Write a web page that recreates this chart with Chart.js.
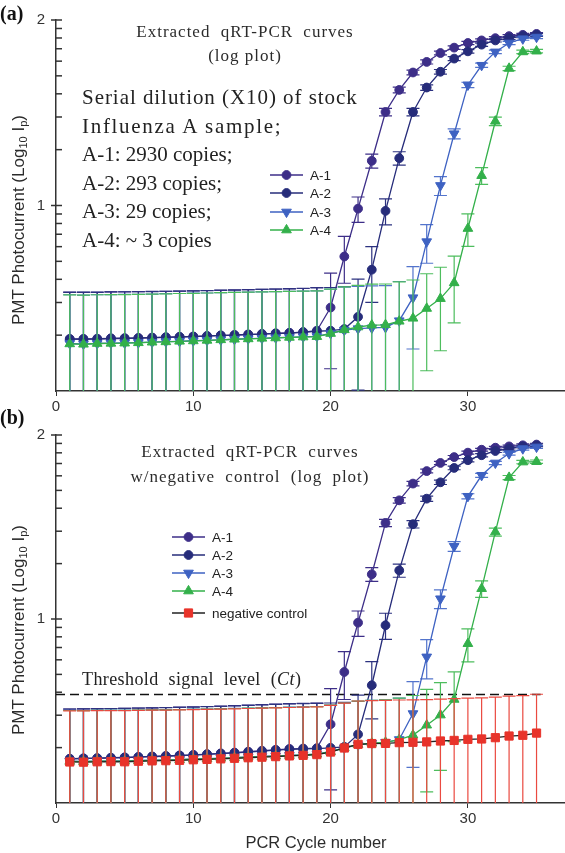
<!DOCTYPE html>
<html>
<head>
<meta charset="utf-8">
<script src="https://cdn.jsdelivr.net/npm/chart.js"></script>
<style>
  body { margin: 0; background: #fff; }
  #wrap { position: relative; width: 565px; height: 853px; overflow: hidden; }
  canvas { position: absolute; left: 0; }
  .t { position: absolute; white-space: nowrap; color: #2b2b2b; }
  .c { transform: translate(-50%, -50%); }
  .serif { font-family: "Liberation Serif", "Times New Roman", serif; }
  .sans { font-family: "Liberation Sans", Arial, sans-serif; }
  .ytitle { transform: translate(-50%, -50%) rotate(-90deg); font-size: 17px; }
  sub { font-size: 65%; line-height: 0; vertical-align: -0.25em; }
</style>
</head>
<body>
<div id="wrap">
  <canvas id="chartA" width="565" height="415" style="top:0"></canvas>
  <canvas id="chartB" width="565" height="438" style="top:415px"></canvas>

  <div class="t serif" style="left:0;top:2px;font-size:20px;font-weight:bold;color:#111">(a)</div>
  <div class="t serif" style="left:0;top:406px;font-size:20px;font-weight:bold;color:#111">(b)</div>

  <div class="t serif c" style="left:245px;top:32px;font-size:17px;letter-spacing:1px;word-spacing:5px">Extracted qRT-PCR curves</div>
  <div class="t serif c" style="left:245px;top:56px;font-size:17px;letter-spacing:1px">(log plot)</div>
  <div class="t serif" style="left:82px;top:83px;font-size:21px;line-height:28.5px;color:#222">
    <span style="letter-spacing:0.95px">Serial dilution (X10) of stock</span><br><span style="letter-spacing:1.7px">Influenza A sample;</span><br>A-1: 2930 copies;<br>A-2: 293 copies;<br>A-3: 29 copies;<br>A-4: ~ 3 copies
  </div>

  <div class="t serif c" style="left:250px;top:452px;font-size:17px;letter-spacing:1px;word-spacing:5px">Extracted qRT-PCR curves</div>
  <div class="t serif c" style="left:250px;top:477px;font-size:17px;letter-spacing:1px;word-spacing:5px">w/negative control (log plot)</div>
  <div class="t serif" style="left:82px;top:669px;font-size:18px;letter-spacing:0.4px;word-spacing:5px;color:#222">Threshold signal level (<i>Ct</i>)</div>

  <div class="t sans ytitle" style="left:19px;top:220px">PMT Photocurrent (Log<sub>10</sub> I<sub>p</sub>)</div>
  <div class="t sans ytitle" style="left:19px;top:630px">PMT Photocurrent (Log<sub>10</sub> I<sub>p</sub>)</div>
  <div class="t sans c" style="left:316px;top:842px;font-size:16.5px">PCR Cycle number</div>
</div>

<script>
// cycles (x axis)
const cycles = [1, 2, 3, 4, 5, 6, 7, 8, 9, 10, 11, 12, 13, 14, 15, 16, 17, 18, 19, 20,
  21, 22, 23, 24, 25, 26, 27, 28, 29, 30, 31, 32, 33, 34, 35]

const seriesNames = ["A-1", "A-2", "A-3", "A-4", "negative control"]

// panel (a) - Log10 Ip
const a1A = [0.281, 0.279, 0.282, 0.284, 0.283, 0.286, 0.288, 0.289, 0.291, 0.294, 0.297, 0.299, 0.302, 0.305, 0.307, 0.311, 0.314, 0.316, 0.325,
  0.450, 0.725, 0.983, 1.241, 1.504, 1.623, 1.717, 1.774, 1.822, 1.851, 1.876, 1.890, 1.902, 1.913, 1.920, 1.925]
const a2A = [0.279, 0.281, 0.280, 0.283, 0.285, 0.285, 0.287, 0.290, 0.292, 0.293, 0.296, 0.300, 0.301, 0.304, 0.308, 0.310, 0.312, 0.318, 0.322,
  0.325, 0.334, 0.400, 0.654, 0.971, 1.255, 1.504, 1.636, 1.721, 1.792, 1.831, 1.867, 1.890, 1.902, 1.913, 1.920]
const a3A = [0.256, 0.253, 0.256, 0.258, 0.259, 0.261, 0.263, 0.266, 0.268, 0.271, 0.273, 0.276, 0.279, 0.282, 0.284, 0.287, 0.289, 0.292, 0.294,
  0.310, 0.328, 0.336, 0.340, 0.343, 0.379, 0.503, 0.805, 1.108, 1.387, 1.650, 1.756, 1.828, 1.876, 1.899, 1.908]
const a4A = [0.254, 0.252, 0.256, 0.257, 0.258, 0.260, 0.263, 0.265, 0.268, 0.270, 0.273, 0.276, 0.279, 0.281, 0.284, 0.286, 0.289, 0.291, 0.293,
  0.310, 0.330, 0.345, 0.355, 0.357, 0.376, 0.392, 0.445, 0.498, 0.583, 0.876, 1.161, 1.454, 1.739, 1.828, 1.832]

// panel (b)
const a1B = [0.241, 0.243, 0.244, 0.246, 0.248, 0.251, 0.253, 0.256, 0.259, 0.262, 0.266, 0.270, 0.274, 0.279, 0.284, 0.289, 0.294, 0.296, 0.298,
  0.428, 0.712, 0.980, 1.243, 1.522, 1.645, 1.736, 1.804, 1.848, 1.880, 1.904, 1.920, 1.931, 1.938, 1.944, 1.948]
const a2B = [0.239, 0.242, 0.243, 0.245, 0.247, 0.249, 0.252, 0.254, 0.257, 0.260, 0.264, 0.268, 0.272, 0.277, 0.282, 0.287, 0.291, 0.294, 0.296,
  0.300, 0.305, 0.373, 0.640, 0.966, 1.264, 1.515, 1.654, 1.743, 1.821, 1.863, 1.890, 1.913, 1.926, 1.938, 1.944]
const a3B = [0.228, 0.226, 0.228, 0.229, 0.229, 0.231, 0.233, 0.234, 0.236, 0.239, 0.241, 0.244, 0.247, 0.250, 0.253, 0.256, 0.259, 0.262, 0.266,
  0.280, 0.300, 0.315, 0.325, 0.330, 0.345, 0.486, 0.794, 1.110, 1.395, 1.667, 1.781, 1.848, 1.899, 1.926, 1.935]
const a4B = [0.226, 0.225, 0.227, 0.228, 0.227, 0.230, 0.232, 0.233, 0.235, 0.238, 0.240, 0.243, 0.246, 0.249, 0.252, 0.255, 0.258, 0.261, 0.265,
  0.279, 0.300, 0.318, 0.325, 0.330, 0.345, 0.369, 0.423, 0.478, 0.563, 0.866, 1.165, 1.473, 1.769, 1.853, 1.855]
const negB = [0.223, 0.222, 0.224, 0.225, 0.224, 0.227, 0.229, 0.230, 0.232, 0.235, 0.237, 0.240, 0.243, 0.246, 0.249, 0.252, 0.256, 0.259, 0.263,
  0.277, 0.299, 0.319, 0.323, 0.324, 0.328, 0.330, 0.332, 0.337, 0.340, 0.346, 0.348, 0.355, 0.364, 0.368, 0.380]

// error bar size (in Ip units) for A-1..A-4, negative control
const sdSeries = [1.5, 1.5, 1.5, 1.5, 1.5]

// threshold (Log10 Ip) and its cycle range
const threshold = 0.59
const thresholdRange = [0, 35.3]

// y tick labels (Log10 of Ip) and the minor log ticks
const yTickValues = [10, 100]
const yTickText = ["1", "2"]
const yMinorTicks = [2, 3, 4, 5, 6, 7, 8, 9, 20, 30, 40, 50, 60, 70, 80, 90]

const colors = ["#3d2e88", "#262c7a", "#3e62c2", "#33b04a", "#e8332a"]
const errColors = ["#3d2e88", "#2c3280", "#5374cc", "#4dbd5d", "#ea4a40"]

function toPoints(vals) {
  return cycles.map((c, i) => ({ x: c, y: Math.pow(10, vals[i]) }))
}

function series(i, vals) {
  const styles = [
    { pointStyle: "circle", pointRadius: 4.4, rot: 0 },
    { pointStyle: "circle", pointRadius: 4.4, rot: 0 },
    { pointStyle: "triangle", pointRadius: 5.6, rot: 180 },
    { pointStyle: "triangle", pointRadius: 5.6, rot: 0 },
    { pointStyle: "rect", pointRadius: 5.8, rot: 0 },
  ]
  const s = styles[i]
  return {
    label: seriesNames[i],
    data: toPoints(vals),
    borderColor: i === 4 ? "#222" : colors[i],
    backgroundColor: colors[i],
    pointBackgroundColor: colors[i],
    pointBorderColor: colors[i],
    pointStyle: s.pointStyle,
    pointRadius: s.pointRadius,
    pointRotation: s.rot,
    pointBorderWidth: 1,
    borderWidth: 1.3,
    tension: 0,
    sd: sdSeries[i],
    errColor: errColors[i],
    order: 5 - i,
  }
}

// vertical error bars drawn just before each dataset
const errorBars = {
  id: "errorBars",
  beforeDatasetDraw(chart, args) {
    const ds = chart.data.datasets[args.index]
    if (!ds.sd) return
    const { ctx, chartArea } = chart
    const xs = chart.scales.x
    const ys = chart.scales.y
    ctx.save()
    ctx.beginPath()
    ctx.rect(chartArea.left, chartArea.top, chartArea.width, chartArea.height)
    ctx.clip()
    ctx.strokeStyle = ds.errColor
    ctx.lineWidth = 1.2
    ds.data.forEach((p) => {
      const px = xs.getPixelForValue(p.x)
      const hi = ys.getPixelForValue(p.y + ds.sd)
      const lowVal = p.y - ds.sd
      const lo = lowVal > ys.min ? ys.getPixelForValue(lowVal) : chartArea.bottom
      ctx.beginPath()
      ctx.moveTo(px, hi)
      ctx.lineTo(px, lo)
      ctx.moveTo(px - 6.5, hi)
      ctx.lineTo(px + 6.5, hi)
      if (lowVal > ys.min) {
        ctx.moveTo(px - 6.5, lo)
        ctx.lineTo(px + 6.5, lo)
      }
      ctx.stroke()
    })
    ctx.restore()
  },
}

// y tick marks pointing into the plot (major ones cross the axis)
const yTickMarks = {
  id: "yTickMarks",
  afterDraw(chart) {
    const ys = chart.scales.y
    const ctx = chart.ctx
    const left = chart.chartArea.left
    ctx.save()
    ctx.strokeStyle = "#333"
    ctx.lineWidth = 1.5
    yTickValues.concat(yMinorTicks).forEach((v) => {
      const py = ys.getPixelForValue(v)
      const major = yTickValues.indexOf(v) >= 0
      ctx.beginPath()
      ctx.moveTo(major ? left - 5 : left, py)
      ctx.lineTo(left + 6, py)
      ctx.stroke()
    })
    ctx.restore()
  },
}

// legend placed inside the plot
const insideLegend = {
  id: "insideLegend",
  afterDraw(chart, args, opts) {
    const ctx = chart.ctx
    ctx.save()
    opts.rows.forEach((row) => {
      const ds = chart.data.datasets[row.index]
      const x0 = opts.x
      const x1 = opts.x + opts.len
      ctx.strokeStyle = ds.borderColor
      ctx.lineWidth = 1.3
      ctx.beginPath()
      ctx.moveTo(x0, row.y)
      ctx.lineTo(x1, row.y)
      ctx.stroke()
      ctx.fillStyle = ds.pointBackgroundColor
      ctx.strokeStyle = ds.pointBorderColor
      ctx.lineWidth = 1
      Chart.helpers.drawPoint(ctx, {
        pointStyle: ds.pointStyle,
        radius: ds.pointRadius,
        rotation: ds.pointRotation,
        borderWidth: 1,
      }, (x0 + x1) / 2, row.y)
      ctx.fillStyle = "#222"
      ctx.font = '13.5px "Liberation Sans", Arial, sans-serif'
      ctx.textBaseline = "middle"
      ctx.textAlign = "left"
      ctx.fillText(ds.label, x1 + 7, row.y + 1)
    })
    ctx.restore()
  },
}

function makeChart(id, datasets, topPad, xHeight, legendOpts) {
  return new Chart(document.getElementById(id), {
    type: "line",
    data: { datasets },
    plugins: [errorBars, yTickMarks, insideLegend],
    options: {
      responsive: false,
      animation: false,
      devicePixelRatio: 1,
      layout: { autoPadding: false, padding: { top: topPad, right: 1, left: 0, bottom: 0 } },
      plugins: {
        legend: { display: false },
        tooltip: { enabled: false },
        insideLegend: legendOpts,
      },
      scales: {
        x: {
          type: "linear",
          min: 0,
          max: 37,
          afterFit: (s) => { s.height = xHeight },
          grid: { drawOnChartArea: false, tickLength: 5, color: "#333" },
          border: { display: true, color: "#333", width: 1.5 },
          ticks: {
            stepSize: 10,
            includeBounds: false,
            maxRotation: 0,
            padding: 2,
            color: "#333",
            font: { family: '"Liberation Sans", Arial, sans-serif', size: 15 },
          },
        },
        y: {
          type: "logarithmic",
          min: 1,
          max: 100,
          afterFit: (s) => { s.width = 56 },
          grid: { drawOnChartArea: false, drawTicks: false },
          border: { display: true, color: "#333", width: 1.5 },
          ticks: {
            autoSkip: false,
            padding: 11,
            color: "#333",
            font: { family: '"Liberation Sans", Arial, sans-serif', size: 15 },
            callback: (v) => {
              const k = yTickValues.indexOf(v)
              return k >= 0 ? yTickText[k] : ""
            },
          },
        },
      },
    },
  })
}

makeChart("chartA", [
  series(0, a1A), series(1, a2A), series(2, a3A), series(3, a4A),
], 16, 24, {
  x: 270, len: 33,
  rows: [{ index: 0, y: 175 }, { index: 1, y: 193 }, { index: 2, y: 212 }, { index: 3, y: 230 }],
})

makeChart("chartB", [
  series(0, a1B), series(1, a2B), series(2, a3B), series(3, a4B), series(4, negB),
  {
    label: "threshold",
    data: thresholdRange.map((c) => ({ x: c, y: Math.pow(10, threshold) })),
    borderColor: "#111",
    borderDash: [9, 5],
    borderWidth: 1.6,
    pointRadius: 0,
    order: 8,
  },
], 20, 50, {
  x: 172, len: 33,
  rows: [{ index: 0, y: 122 }, { index: 1, y: 140 }, { index: 2, y: 158 }, { index: 3, y: 176 }, { index: 4, y: 198 }],
})
</script>
</body>
</html>
